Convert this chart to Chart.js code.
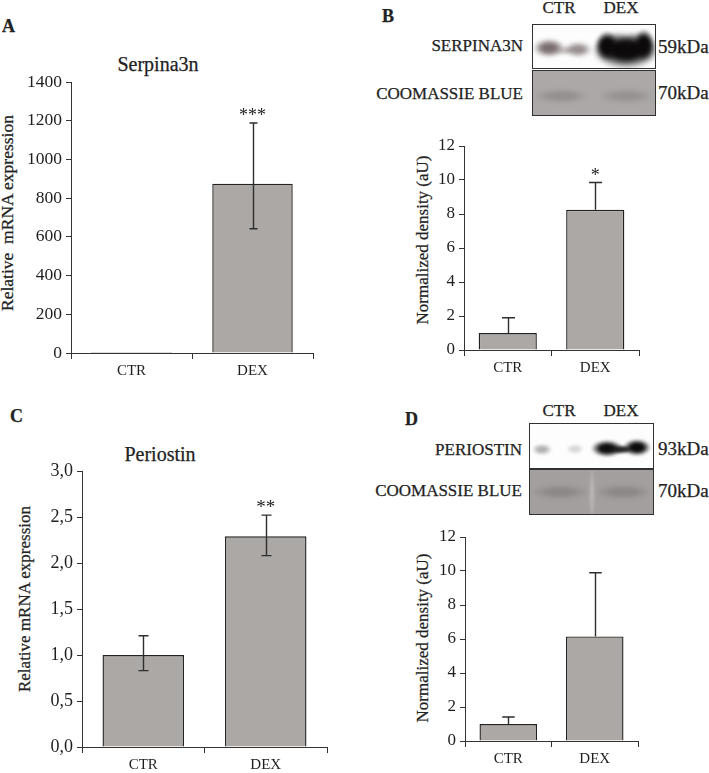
<!DOCTYPE html>
<html><head><meta charset="utf-8">
<script src="https://cdn.jsdelivr.net/npm/chart.js@4/dist/chart.umd.min.js"></script>
<style>
html,body{margin:0;padding:0;background:#fff;}
#root{position:relative;width:709px;height:773px;overflow:hidden;font-family:"Liberation Serif","Times New Roman",serif;color:#222;}
#root canvas{position:absolute;}
.t{position:absolute;white-space:pre;line-height:1;-webkit-text-stroke:0.25px #222;}
.blot{position:absolute;box-sizing:border-box;border:1.5px solid #303030;overflow:hidden;}
.band{position:absolute;border-radius:50%;}
</style></head><body><div id="root"></div>
<script>
// ---------- data ----------
const categories = ['CTR', 'DEX'];
const serpinaMrna = [1, 875];
const serpinaMrnaErrUp = [0, 313];
const serpinaMrnaErrDown = [0, 233];
const serpinaDensity = [1.0, 8.25];
const serpinaDensityErrUp = [0.9, 1.6];
const periostinMrna = [1.0, 2.29];
const periostinMrnaErrUp = [0.21, 0.23];
const periostinMrnaErrDown = [0.17, 0.21];
const periostinDensity = [1.0, 6.15];
const periostinDensityErrUp = [0.41, 3.75];
const starsA = ['', '***'];
const starsB = ['', '*'];
const starsC = ['', '**'];
const starsD = ['', ''];
const ticksA = ['0', '200', '400', '600', '800', '1000', '1200', '1400'];
const ticksC = ['0,0', '0,5', '1,0', '1,5', '2,0', '2,5', '3,0'];
const ticksDensity = ['0', '2', '4', '6', '8', '10', '12'];

const FONT = "'Liberation Serif', 'Times New Roman', serif";
Chart.defaults.font.family = FONT;
Chart.defaults.font.size = 17;
Chart.defaults.color = '#1e1e1e';
const root = document.getElementById('root');

function txt(s, x, base, size, align, bold) {
  const d = document.createElement('div');
  d.className = 't';
  d.textContent = s;
  d.style.fontSize = size + 'px';
  if (bold) d.style.fontWeight = 'bold';
  d.style.top = (base - 0.8375 * size) + 'px';
  d.style.left = x + 'px';
  if (align === 'center') d.style.transform = 'translateX(-50%)';
  if (align === 'right') d.style.transform = 'translateX(-100%)';
  root.appendChild(d);
}
function vtxt(s, cx, cy, size) {
  const d = document.createElement('div');
  d.className = 't';
  d.textContent = s;
  d.style.fontSize = size + 'px';
  d.style.left = cx + 'px';
  d.style.top = cy + 'px';
  d.style.transform = 'translate(-50%,-50%) rotate(-90deg)';
  root.appendChild(d);
}
function blot(x, y, w, h, bg) {
  const d = document.createElement('div');
  d.className = 'blot';
  d.style.left = x + 'px'; d.style.top = y + 'px';
  d.style.width = w + 'px'; d.style.height = h + 'px';
  d.style.background = bg;
  root.appendChild(d);
  return d;
}
function band(p, cx, cy, w, h, color, blur) {
  const b = document.createElement('div');
  b.className = 'band';
  b.style.left = (cx - w / 2) + 'px'; b.style.top = (cy - h / 2) + 'px';
  b.style.width = w + 'px'; b.style.height = h + 'px';
  b.style.background = 'radial-gradient(ellipse closest-side, ' + color + ' 0%, ' + color + ' 45%, rgba(255,255,255,0) 100%)';
  b.style.filter = 'blur(' + (blur || 1) + 'px)';
  p.appendChild(b);
}

// ---------- error bar / significance plugin ----------
const errPlugin = {
  id: 'errbars',
  afterDatasetsDraw(chart, args, o) {
    const ctx = chart.ctx;
    const meta = chart.getDatasetMeta(0);
    const ys = chart.scales.y;
    const vals = chart.data.datasets[0].data;
    ctx.save();
    ctx.strokeStyle = '#2e2e2e';
    ctx.lineWidth = 1.4;
    meta.data.forEach((el, i) => {
      const v = vals[i];
      const up = o.up[i] || 0;
      const dn = o.down ? (o.down[i] || 0) : 0;
      const x = Math.round(el.x) + 0.5;
      const yTop = ys.getPixelForValue(v + up);
      const yBot = dn ? ys.getPixelForValue(v - dn) : ys.getPixelForValue(v);
      if (up > 0) {
        ctx.beginPath();
        ctx.moveTo(x, yBot); ctx.lineTo(x, yTop);
        ctx.moveTo(x - o.cap / 2, yTop); ctx.lineTo(x + o.cap / 2, yTop);
        if (dn) { ctx.moveTo(x - o.cap / 2, yBot); ctx.lineTo(x + o.cap / 2, yBot); }
        ctx.stroke();
      }
      if (o.stars && o.stars[i]) {
        ctx.fillStyle = '#222';
        ctx.font = o.starSize + 'px ' + FONT;
        ctx.textAlign = 'center';
        ctx.textBaseline = 'alphabetic';
        ctx.fillText(o.stars[i], el.x, yTop - 2);
      }
    });
    ctx.restore();
  }
};

function makeBar(spec) {
  const c = document.createElement('canvas');
  c.width = spec.box.w; c.height = spec.box.h;
  c.style.left = spec.box.x + 'px'; c.style.top = spec.box.y + 'px';
  c.style.width = spec.box.w + 'px'; c.style.height = spec.box.h + 'px';
  root.appendChild(c);
  const a = spec.area, b = spec.box;
  const yW = a.left - b.x;
  const xH = 24;
  new Chart(c, {
    type: 'bar',
    data: {
      labels: categories,
      datasets: [{
        data: spec.values,
        backgroundColor: '#aca8a5',
        borderColor: '#222',
        borderWidth: 1.4,
        borderSkipped: 'bottom',
        barPercentage: 0.665,
        categoryPercentage: 1,
        minBarLength: spec.minBar || 0
      }]
    },
    options: {
      responsive: false, animation: false, devicePixelRatio: 1,
      font: { family: FONT },
      layout: { padding: { left: 0, top: a.top - b.y, right: b.x + b.w - a.right, bottom: b.y + b.h - a.bottom - xH } },
      plugins: {
        legend: { display: false }, tooltip: { enabled: false }, title: { display: false },
        errbars: { up: spec.up, down: spec.down, cap: spec.cap, stars: spec.stars, starSize: spec.starSize }
      },
      scales: {
        x: {
          grid: { display: true, drawOnChartArea: false, drawTicks: true, tickLength: 6, color: '#333', offset: true },
          border: { display: true, color: '#333', width: 1 },
          ticks: { font: { family: FONT, size: 15 }, color: '#1e1e1e', padding: 3 },
          afterFit(s) { s.height = xH; }
        },
        y: {
          type: 'linear',
          min: 0, max: spec.max,
          ticks: { stepSize: spec.step, font: { family: FONT, size: spec.tickSize }, color: '#1e1e1e', padding: 4,
                   callback: (v, i) => spec.tickLabels[i] },
          grid: { drawOnChartArea: false, drawTicks: true, tickLength: 5, color: '#333' },
          border: { display: true, color: '#333', width: 1 },
          afterFit(s) { s.width = yW; }
        }
      }
    },
    plugins: [errPlugin]
  });
}

// ---------- panel A ----------
txt('A', 2, 31.7, 18, 'left', true);
txt('Serpina3n', 158, 71, 20, 'center');
vtxt('Relative  mRNA expression', 7.5, 213, 17.5);
makeBar({ box: { x: 0, y: 0, w: 340, h: 395 }, area: { left: 71, right: 313, top: 82, bottom: 353 },
  values: serpinaMrna, up: serpinaMrnaErrUp, down: serpinaMrnaErrDown, cap: 8, stars: starsA, starSize: 18,
  max: 1400, step: 200, tickLabels: ticksA, tickSize: 17.5, minBar: 1 });

// ---------- panel B ----------
txt('B', 382, 21.7, 18, 'left', true);
txt('CTR', 559, 13.3, 17, 'center');
txt('DEX', 621, 13.3, 17, 'center');
txt('SERPINA3N', 523, 51.7, 17, 'right');
txt('COOMASSIE BLUE', 523, 99, 17, 'right');
txt('59kDa', 658, 53.3, 19, 'left');
txt('70kDa', 658, 99, 19, 'left');
const b1 = blot(532, 24, 124, 45, '#fdfdfd');
band(b1, 16, 23, 32, 18, 'rgba(88,72,72,0.8)', 2);
band(b1, 31, 25, 22, 9, 'rgba(150,140,140,0.45)', 1.5);
band(b1, 45, 24, 28, 15, 'rgba(105,92,92,0.7)', 2);
band(b1, 93, 25, 68, 38, '#0c0a0a', 2);
band(b1, 74, 21, 24, 30, '#0c0a0a', 1.8);
band(b1, 111, 20, 22, 32, '#0c0a0a', 1.8);
band(b1, 93, 6, 22, 10, 'rgba(255,255,255,0.6)', 2);
const b2 = blot(532, 70, 124, 46, '#aca8a8');
band(b2, 28, 25, 56, 14, 'rgba(125,118,118,0.5)', 2);
band(b2, 93, 25, 56, 14, 'rgba(125,118,118,0.45)', 2);
vtxt('Normalized density (aU)', 421.5, 240, 17);
makeBar({ box: { x: 414, y: 125, w: 290, h: 265 }, area: { left: 464, right: 639, top: 146, bottom: 350 },
  values: serpinaDensity, up: serpinaDensityErrUp, down: null, cap: 13, stars: starsB, starSize: 18,
  max: 12, step: 2, tickLabels: ticksDensity, tickSize: 17 });

// ---------- panel C ----------
txt('C', 10, 421.7, 18, 'left', true);
txt('Periostin', 160, 460.7, 20, 'center');
vtxt('Relative mRNA expression', 24, 599, 17);
makeBar({ box: { x: 16, y: 440, w: 330, h: 333 }, area: { left: 82, right: 327, top: 471, bottom: 747 },
  values: periostinMrna, up: periostinMrnaErrUp, down: periostinMrnaErrDown, cap: 10, stars: starsC, starSize: 19,
  max: 3, step: 0.5, tickLabels: ticksC, tickSize: 18 });

// ---------- panel D ----------
txt('D', 405, 425, 18, 'left', true);
txt('CTR', 559, 416, 17, 'center');
txt('DEX', 621, 416, 17, 'center');
txt('PERIOSTIN', 522, 455, 17, 'right');
txt('COOMASSIE BLUE', 522, 496.7, 17, 'right');
txt('93kDa', 658, 455, 19, 'left');
txt('70kDa', 658, 496.7, 19, 'left');
const d1 = blot(529, 423, 125, 46, '#fdfdfd');
band(d1, 12, 25, 20, 11, 'rgba(115,115,115,0.55)', 1.5);
band(d1, 45, 25, 18, 10, 'rgba(170,170,170,0.45)', 1.5);
band(d1, 77, 24, 32, 17, '#0e0e0e', 1.5);
band(d1, 91, 25, 26, 9, 'rgba(25,25,25,0.9)', 1.2);
band(d1, 107, 23, 28, 17, '#0b0b0b', 1.5);
const d2 = blot(529, 469, 125, 46, '#a39f9e');
band(d2, 30, 22, 58, 14, 'rgba(112,106,106,0.45)', 2);
band(d2, 93, 22, 58, 14, 'rgba(112,106,106,0.45)', 2);
band(d2, 62, 23, 6, 60, 'rgba(230,228,228,0.35)', 1.5);
vtxt('Normalized density (aU)', 421.5, 637.5, 17);
makeBar({ box: { x: 414, y: 510, w: 290, h: 263 }, area: { left: 465, right: 638, top: 537, bottom: 741 },
  values: periostinDensity, up: periostinDensityErrUp, down: null, cap: 12.5, stars: starsD, starSize: 18,
  max: 12, step: 2, tickLabels: ticksDensity, tickSize: 17 });
</script></body></html>
